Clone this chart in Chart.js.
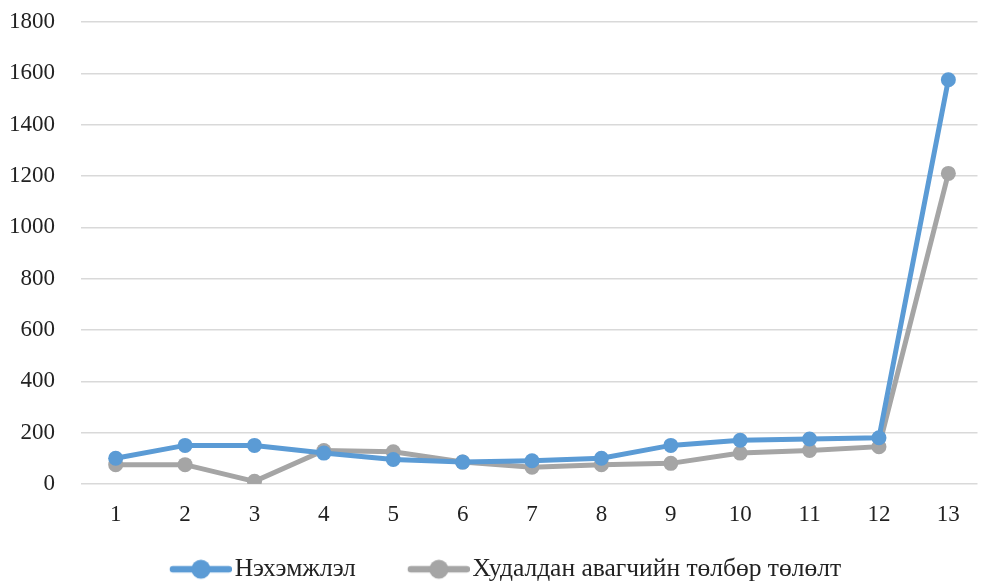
<!DOCTYPE html>
<html>
<head>
<meta charset="utf-8">
<script src="https://cdn.jsdelivr.net/npm/chart.js@4/dist/chart.umd.min.js"></script>
<style>
html,body{margin:0;padding:0;background:#fff;}
#wrap{width:985px;height:582px;position:relative;}
</style>
</head>
<body>
<div id="wrap"><canvas id="c" width="985" height="582"></canvas></div>
<script>
const categories = [1,2,3,4,5,6,7,8,9,10,11,12,13];
const invoices = [100,150,150,120,95,85,90,100,150,170,175,180,1575];
const payments = [75,75,10,130,125,85,65,75,80,120,130,145,1210];
const yTicks = [0,200,400,600,800,1000,1200,1400,1600,1800];
const seriesNames = ['Нэхэмжлэл','Худалдан авагчийн төлбөр төлөлт'];
const colors = ['#5B9BD5','#A5A5A5'];

const BOX_W = 94, ICON_W = 114, LINE_LEN = 62;
function legendIcon(color){
  const cv = document.createElement('canvas');
  cv.width = ICON_W; cv.height = 22;
  const g = cv.getContext('2d');
  const x0 = ICON_W - LINE_LEN + 3, x1 = ICON_W - 3;
  g.strokeStyle = color; g.lineWidth = 6.5; g.lineCap = 'round';
  g.beginPath(); g.moveTo(x0,11); g.lineTo(x1,11); g.stroke();
  g.fillStyle = color; g.beginPath(); g.arc((x0+x1)/2,11,9.5,0,Math.PI*2); g.fill();
  return cv;
}
const icons = colors.map(legendIcon);

const mk = (vals) => categories.map((c,i)=>({x:c,y:vals[i]}));
const tickFont = {family: 'Liberation Serif', size: 23};

const legendShift = {
  id: 'legendShift',
  afterLayout(chart) {
    const l = chart.legend;
    if (l) { l.left -= 8; l.right -= 8; }
  }
};

new Chart(document.getElementById('c'), {
  type: 'line',
  data: {
    datasets: [
      {label: seriesNames[0], data: mk(invoices), borderColor: colors[0], backgroundColor: colors[0],
       borderWidth: 5, pointRadius: 7.5, pointHoverRadius: 7.5, pointBorderWidth: 0, tension: 0},
      {label: seriesNames[1], data: mk(payments), borderColor: colors[1], backgroundColor: colors[1],
       borderWidth: 5, pointRadius: 7.5, pointHoverRadius: 7.5, pointBorderWidth: 0, tension: 0}
    ]
  },
  plugins: [legendShift],
  options: {
    responsive: false,
    animation: false,
    layout: {padding: {left: 0, top: 22, right: 0, bottom: -10}},
    scales: {
      x: {
        type: 'linear', min: 0.5, max: 13.42,
        afterBuildTicks: ax => { ax.ticks = categories.map(v=>({value:v})); },
        afterFit: s => { s.paddingLeft = 0; s.paddingRight = 0; },
        grid: {display: false, drawTicks: false},
        border: {display: false},
        ticks: {padding: 17.5, color: '#222', font: tickFont,
                callback: v => String(v), maxRotation: 0, autoSkip: false}
      },
      y: {
        min: 0, max: 1800,
        afterBuildTicks: ax => { ax.ticks = yTicks.map(v=>({value:v})); },
        afterFit: s => { s.width = 81; s.paddingTop = 12; s.paddingBottom = 0; },
        grid: {color: '#D9D9D9', lineWidth: 1.5, drawTicks: false},
        border: {display: false},
        ticks: {padding: 26, color: '#222', font: tickFont, callback: v => String(v)}
      }
    },
    plugins: {
      legend: {
        position: 'bottom',
        labels: {
          usePointStyle: true, pointStyleWidth: BOX_W, padding: 10,
          color: '#222', font: {family: 'Liberation Serif', size: 25.5},
          generateLabels: chart => chart.data.datasets.map((d,i)=>({
            text: d.label, fillStyle: colors[i], strokeStyle: colors[i], lineWidth: 0,
            pointStyle: icons[i], datasetIndex: i, hidden: false, fontColor: '#222'
          }))
        }
      },
      tooltip: {enabled: false}
    }
  }
});
</script>
</body>
</html>
